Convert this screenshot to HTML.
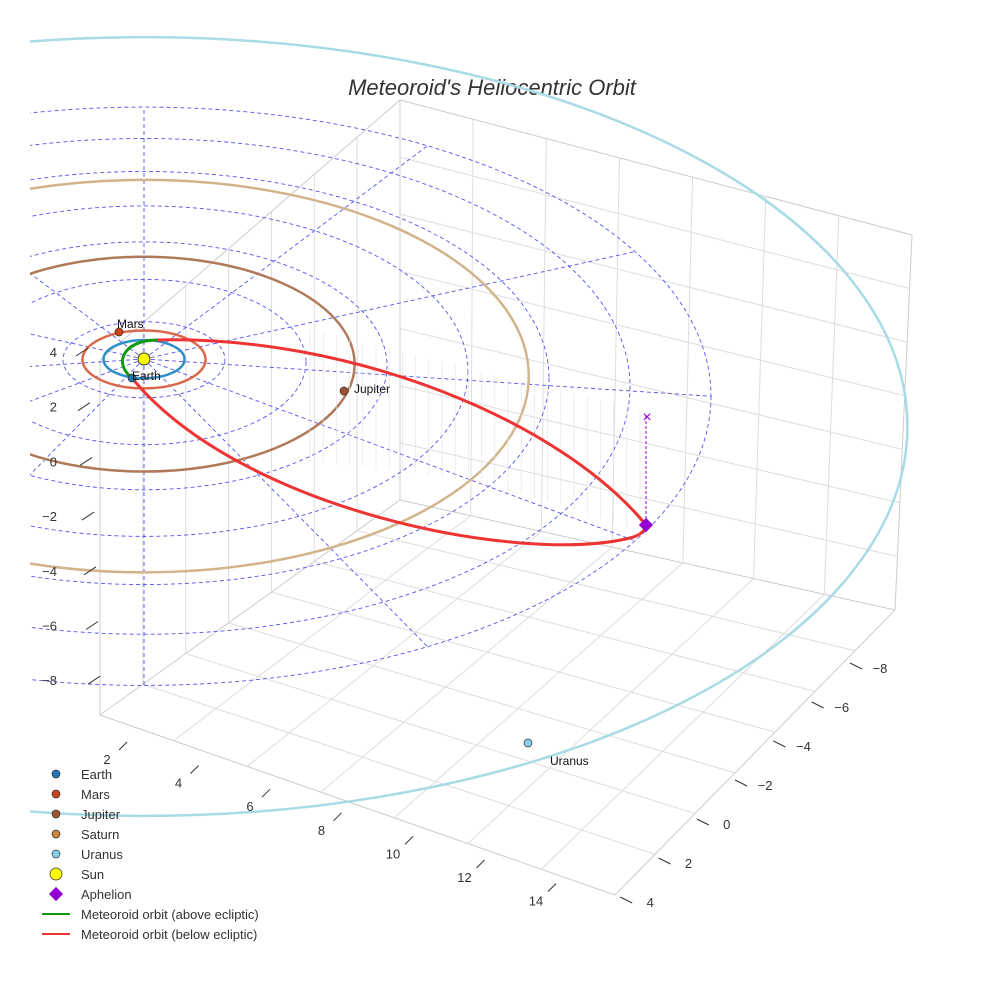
<!DOCTYPE html>
<html><head><meta charset="utf-8"><style>
body{margin:0;background:#fff;}
svg{display:block;font-family:"Liberation Sans",sans-serif;}
</style></head><body>
<svg id="chart" width="984" height="984" viewBox="0 0 984 984">
<text x="492" y="95" text-anchor="middle" font-size="22" font-style="italic" fill="#333">Meteoroid's Heliocentric Orbit</text>
<defs><clipPath id="cp"><rect x="30" y="0" width="954" height="984"/></clipPath></defs>
<g id="box"></g>
<g id="plot" clip-path="url(#cp)"></g>
<g id="ticks"></g>
<g id="legend"></g>
</svg>
<script>
const NS="http://www.w3.org/2000/svg";
const sun=[144,359];
const pxPerAU=40.5;
const planetNames=["Earth","Mars","Jupiter","Saturn","Uranus"];
const planetA=[1.0,1.52,5.2,9.5,18.85];
const planetColors=["#2e8fc9","#d9694a","#b07a5a","#d2b48c","#a8dbe5"];
const ringRadii=[2,4,6,8,10,12,14];
const spokeAngles=[0,30,60,90,120,150,180,210,240,270,300,330];
const zTicks=["4","2","0","−2","−4","−6","−8"];
const xTicks=["2","4","6","8","10","12","14"];
const yTicks=["−8","−6","−4","−2","0","2","4"];
const legendLabels=["Earth","Mars","Jupiter","Saturn","Uranus","Sun","Aphelion","Meteoroid orbit (above ecliptic)","Meteoroid orbit (below ecliptic)"];
const perihelion=[132,378], aphelion=[646,525];

function rx(a){return a*pxPerAU;}
function ry(a){return rx(a)*(a>3?0.51:0.47);}
function cy(a){return sun[1]+0.19*a*a;}
function pt(a,deg){const t=deg*Math.PI/180;return [sun[0]+rx(a)*Math.cos(t), cy(a)-ry(a)*Math.sin(t)];}
function el(tag,attrs,parent){const e=document.createElementNS(NS,tag);for(const k in attrs)e.setAttribute(k,attrs[k]);parent.appendChild(e);return e;}
const plot=document.getElementById('plot'),box=document.getElementById('box'),ticks=document.getElementById('ticks'),legend=document.getElementById('legend');

// grid box
const boxLines=[[100,715,615,895],[615,895,895,610],[100,715,100,360],[895,610,912,235],[100,360,400,100],[400,100,912,235],[100,715,400,500],[400,500,895,610],[400,500,400,100]];
boxLines.forEach(l=>{const e=el('line',{x1:l[0],y1:l[1],x2:l[2],y2:l[3],stroke:'#ccc','stroke-width':1},box);});
for(let i=1;i<7;i++){const f=i/7;
 const x1=100+515*f,y1=715+180*f, x2=400+495*f,y2=500+110*f;
 const e=el('line',{x1:x1,y1:y1,x2:x2,y2:y2,stroke:'#ddd'},box);
 const v=el('line',{x1:x2,y1:y2,x2:400+512*f,y2:100+135*f,stroke:'#ddd'},box);
 const g=el('line',{x1:100+300*f,y1:715-215*f,x2:615+280*f,y2:895-285*f,stroke:'#ddd'},box);
 const h=el('line',{x1:100+300*f,y1:360-260*f,x2:100+300*f,y2:715-215*f,stroke:'#ddd'},box);
 const k=el('line',{x1:400,y1:100+400*f,x2:912-17*f,y2:235+375*f,stroke:'#ddd'},box);
}

// dashed rings
ringRadii.forEach(r=>{const e=el('ellipse',{cx:sun[0],cy:cy(r),rx:rx(r),ry:ry(r),fill:'none',stroke:'#5555ee','stroke-width':0.9,'stroke-dasharray':'4,3'},plot);
});
spokeAngles.forEach(a=>{const R=14;const p=pt(R,a);const e=el('line',{x1:sun[0],y1:sun[1],x2:p[0],y2:p[1],stroke:'#5555ee','stroke-width':0.9,'stroke-dasharray':'4,3'},plot);
});

// planet orbits
planetA.forEach((a,i)=>{const e=el('ellipse',{cx:sun[0],cy:cy(a),rx:rx(a),ry:ry(a),fill:'none',stroke:planetColors[i],'stroke-width':2.5},plot);
});

// stalks
for(let i=0;i<26;i++){const t=i/25;const x=310+330*t;const yb=462+70*t-14*Math.sin(t*Math.PI);const yt=330+80*t;
 const e=el('line',{x1:x,y1:yb,x2:x,y2:yt,stroke:'#e2e2e2','stroke-width':0.6},plot);}

// meteoroid orbit
const up=el('path',{d:`M157,340 C350,335 560,420 646,525`,fill:'none',stroke:'#ee3333','stroke-width':3},plot);

const lo=el('path',{d:`M${perihelion[0]},${perihelion[1]} C240,510 520,565 630,538 Q645,534 ${aphelion[0]},${aphelion[1]}`,fill:'none',stroke:'#ee3333','stroke-width':3},plot);

const gr=el('path',{d:`M${perihelion[0]},${perihelion[1]} C112,362 125,340 157,340`,fill:'none',stroke:'#119911','stroke-width':3},plot);

const ap=el('line',{x1:646,y1:416,x2:646,y2:525,stroke:'#9400d3','stroke-dasharray':'3,2'},plot);
const ax=el('text',{x:647,y:422,'text-anchor':'middle',fill:'#9400d3','font-size':16},plot);ax.textContent='×';
const ad=el('rect',{x:641,y:520,width:10,height:10,fill:'#9400d3',transform:'rotate(45 646 525)'},plot);

// planets
const markers=[[132,378],[119,332],[344,391],null,[528,743]];
const mcol=["#1f77b4","#c8421a","#a0522d","#cd853f","#87ceeb"];
planetNames.forEach((n,i)=>{if(!markers[i])return;const m=markers[i];
 const c=el('circle',{cx:m[0],cy:m[1],r:4,fill:mcol[i],stroke:'#333','stroke-width':0.7},plot);
 const off={Earth:[0,2],Mars:[-2,-4],Jupiter:[10,2],Uranus:[22,22]}[n];
 const t=el('text',{x:m[0]+off[0],y:m[1]+off[1],'font-size':12,fill:'#111'},plot);t.textContent=n;});
const s=el('circle',{cx:sun[0],cy:sun[1],r:6,fill:'#ffff00',stroke:'#333'},plot);

// ticks
zTicks.forEach((t,i)=>{const y=352+i*54.7;const e=el('text',{x:57,y:y+5,'text-anchor':'end','font-size':13,fill:'#333'},ticks);e.textContent=t;
 const l=el('line',{x1:76+i*2,y1:y+4,x2:88+i*2,y2:y-4,stroke:'#333'},ticks);});
xTicks.forEach((t,i)=>{const x=107+i*71.5,y=764+i*23.6;const e=el('text',{x:x,y:y,'text-anchor':'middle','font-size':13,fill:'#333'},ticks);e.textContent=t;
 const l=el('line',{x1:x+12,y1:y-14,x2:x+20,y2:y-22,stroke:'#333'},ticks);});
yTicks.forEach((t,i)=>{const x=880-i*38.3,y=673+i*39;const e=el('text',{x:x,y:y,'text-anchor':'middle','font-size':13,fill:'#333'},ticks);e.textContent=t;
 const l=el('line',{x1:x-30,y1:y-10,x2:x-18,y2:y-4,stroke:'#333'},ticks);});

// legend
const lcol=["#1f77b4","#c8421a","#a0522d","#cd853f","#87ceeb","#ffff00","#9400d3","#119911","#ee3333"];
legendLabels.forEach((t,i)=>{const y=774+i*20;let m;
 if(i<6){m=el('circle',{cx:56,cy:y,r:i===5?6:4,fill:lcol[i],stroke:'#333','stroke-width':0.7},legend);}
 else if(i===6){m=el('rect',{x:51,y:y-5,width:10,height:10,fill:lcol[i],transform:`rotate(45 56 ${y})`},legend);}
 else{m=el('line',{x1:42,y1:y,x2:70,y2:y,stroke:lcol[i],'stroke-width':2},legend);}
 
 const e=el('text',{x:81,y:y+5,'font-size':13,fill:'#333'},legend);e.textContent=t;});
</script>
</body></html>
